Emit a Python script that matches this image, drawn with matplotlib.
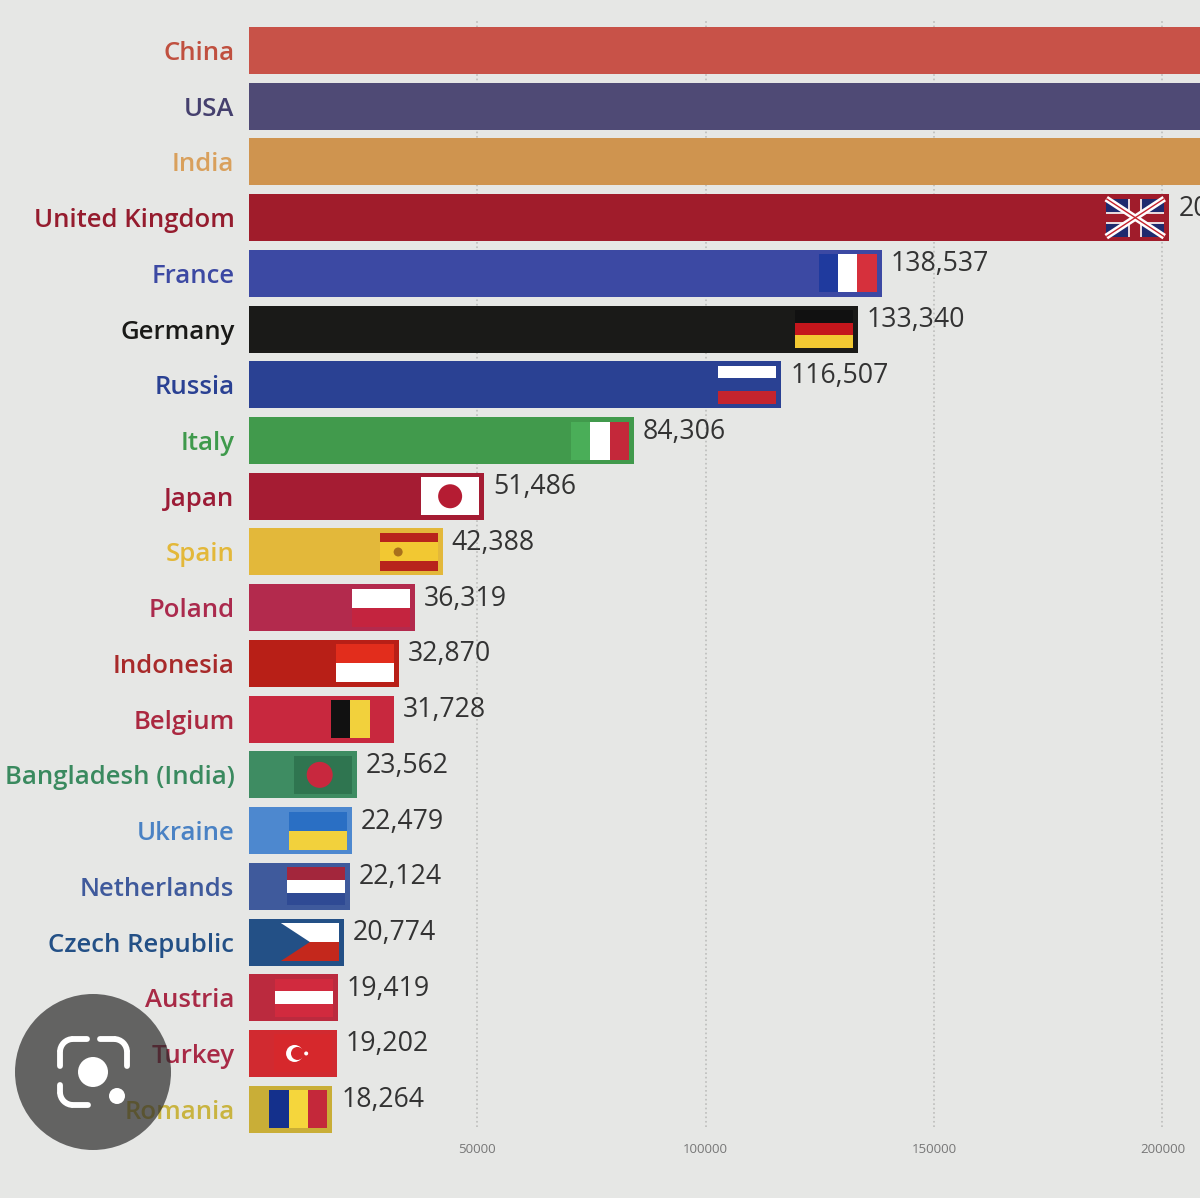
# bar chart race frame, top 20 countries
import matplotlib
matplotlib.use("Agg")
import matplotlib.pyplot as plt
from matplotlib.patches import Arc, Circle, Polygon, Rectangle

WIDTH = 1200
HEIGHT = 1198
BACKGROUND = "#e6e7e5"

countries = ["China", "USA", "India", "United Kingdom", "France", "Germany", "Russia",
             "Italy", "Japan", "Spain", "Poland", "Indonesia", "Belgium",
             "Bangladesh (India)", "Ukraine", "Netherlands", "Czech Republic",
             "Austria", "Turkey", "Romania"]
# first three run off the frame so their values are only a guess,
# the UK label is cut after "20"
values = [320000, 290000, 250000, 201500, 138537, 133340, 116507,
          84306, 51486, 42388, 36319, 32870, 31728,
          23562, 22479, 22124, 20774, 19419, 19202, 18264]
bar_colors = ["#c85248", "#4f4a75", "#cf944f", "#a01c2b", "#3c49a3", "#1a1a18", "#2a4193",
              "#419a4c", "#a51c33", "#e3b83a", "#b32a4d", "#b81f17", "#c8283e",
              "#3e8c62", "#4d88cf", "#3f5a9c", "#235086", "#bb2a3e", "#d12a30", "#c9ae37"]
label_colors = ["#c0503f", "#45406e", "#d9a05c", "#951c2e", "#3c49a3", "#1a1a18", "#2a4193",
                "#3f9a4c", "#9c1c36", "#e3b83a", "#ab2a4d", "#a82a2a", "#ab2840",
                "#3a8a5f", "#4a82c4", "#3f5a9c", "#235086", "#a82a46", "#a82a46", "#c9b440"]
x_ticks = [50000, 100000, 150000, 200000]

# stripes of each flag: (direction, colours)
flag_stripes = {
    "France": ("v", ["#1f3a9e", "#ffffff", "#d6303c"]),
    "Germany": ("h", ["#111111", "#c4161c", "#f2c832"]),
    "Russia": ("h", ["#ffffff", "#2a4193", "#c4242e"]),
    "Italy": ("v", ["#4aae58", "#ffffff", "#c4283a"]),
    "Spain": ("h", ["#b8241c", "#f2c832", "#f2c832", "#b8241c"]),
    "Poland": ("h", ["#ffffff", "#c4243f"]),
    "Indonesia": ("h", ["#e22d1c", "#ffffff"]),
    "Belgium": ("v", ["#111111", "#f2d13c", "#c8283e"]),
    "Ukraine": ("h", ["#2a6fc4", "#f2d13c"]),
    "Netherlands": ("h", ["#a3263c", "#ffffff", "#2f4a94"]),
    "Austria": ("h", ["#d12a3e", "#ffffff", "#d12a3e"]),
    "Romania": ("v", ["#14308c", "#f5d63c", "#c4283a"]),
}


def draw_stripes(over, x, y, w, h, direction, colors):
    for n, color in enumerate(colors):
        if direction == "v":
            over.add_patch(Rectangle((x + n * w / len(colors), y), w / len(colors), h, color=color, lw=0))
        else:
            over.add_patch(Rectangle((x, y + n * h / len(colors)), w, h / len(colors), color=color, lw=0))


def draw_uk(over, x, y, w, h):
    over.add_patch(Rectangle((x, y), w, h, color="#1f2a6e", lw=0))
    over.plot([x, x + w], [y, y + h], color="white", lw=4.5, solid_capstyle="butt")
    over.plot([x, x + w], [y + h, y], color="white", lw=4.5, solid_capstyle="butt")
    over.plot([x, x + w], [y, y + h], color="#c4242e", lw=1, solid_capstyle="butt")
    over.plot([x, x + w], [y + h, y], color="#c4242e", lw=1, solid_capstyle="butt")
    over.add_patch(Rectangle((x + w / 2 - 7, y), 14, h, color="#e8d8dc", lw=0))
    over.add_patch(Rectangle((x, y + h / 2 - 6), w, 12, color="#e8d8dc", lw=0))
    over.add_patch(Rectangle((x + w / 2 - 5, y), 10, h, color="#a01c2b", lw=0))
    over.add_patch(Rectangle((x, y + h / 2 - 4), w, 8, color="#a01c2b", lw=0))


def draw_flag(over, name, x, y, w, h):
    if name in flag_stripes:
        direction, colors = flag_stripes[name]
        draw_stripes(over, x, y, w, h, direction, colors)
        if name == "Spain":
            over.add_patch(Circle((x + w * 0.32, y + h / 2), 4.5, color="#a8701c", lw=0))
    elif name == "United Kingdom":
        draw_uk(over, x, y, w, h)
    elif name == "Japan":
        over.add_patch(Rectangle((x, y), w, h, color="white", lw=0))
        over.add_patch(Circle((x + w / 2, y + h / 2), 12, color="#b51c33", lw=0))
    elif name == "Bangladesh (India)":
        over.add_patch(Rectangle((x, y), w, h, color="#2f7550", lw=0))
        over.add_patch(Circle((x + w * 0.45, y + h / 2), 13, color="#c8283e", lw=0))
    elif name == "Czech Republic":
        draw_stripes(over, x, y, w, h, "h", ["#ffffff", "#c4281c"])
        over.add_patch(Polygon([(x, y), (x + w / 2, y + h / 2), (x, y + h)], color="#235086", lw=0))
    elif name == "Turkey":
        over.add_patch(Rectangle((x, y), w, h, color="#d6282c", lw=0))
        over.add_patch(Circle((x + w * 0.36, y + h / 2), 8.5, color="white", lw=0))
        over.add_patch(Circle((x + w * 0.41, y + h / 2), 6.5, color="#d6282c", lw=0))
        over.add_patch(Circle((x + w * 0.56, y + h / 2), 2, color="white", lw=0))


def draw_lens(over):
    cx, cy = 93, 1072
    over.add_patch(Circle((cx, cy), 78, color="#2b2b2b", alpha=0.7, lw=0))
    lw = 4.2
    r = 13
    left, right, top, bottom = 60, 127, 1039, 1105
    over.add_patch(Arc((left + r, top + r), 2 * r, 2 * r, theta1=180, theta2=270, color="white", lw=lw))
    over.add_patch(Arc((right - r, top + r), 2 * r, 2 * r, theta1=270, theta2=360, color="white", lw=lw))
    over.add_patch(Arc((left + r, bottom - r), 2 * r, 2 * r, theta1=90, theta2=180, color="white", lw=lw))
    segs = [([left, left], [top + r, top + 27]), ([left + r, left + 27], [top, top]),
            ([right, right], [top + r, top + 27]), ([right - r, right - 27], [top, top]),
            ([left, left], [bottom - r, bottom - 20]), ([left + r, left + 28], [bottom, bottom])]
    for xs, ys in segs:
        over.plot(xs, ys, color="white", lw=lw, solid_capstyle="round")
    over.add_patch(Circle((cx, cy), 15, color="white", lw=0))
    over.add_patch(Circle((117, 1096), 8, color="white", lw=0))


plt.rcParams["font.family"] = ["Open Sans", "DejaVu Sans"]

fig = plt.figure(figsize=(WIDTH / 100, HEIGHT / 100), dpi=100, facecolor=BACKGROUND)

# main axes spans px x 249-1200, y 20-1127
ax = fig.add_axes([249 / WIDTH, 1 - 1127 / HEIGHT, (WIDTH - 249) / WIDTH, (1127 - 20) / HEIGHT])
ax.set_facecolor(BACKGROUND)
spacing = 55.72
ax.set_ylim((1127 - 50.5) / spacing, (20 - 50.5) / spacing)
ax.set_xlim(0, (WIDTH - 249) / 0.004567)

positions = list(range(len(countries)))
bars = ax.barh(positions, values, height=47 / spacing, color=bar_colors, zorder=2)
for bar in bars:
    # Romania reaches past the end of the gridlines
    bar.set_clip_on(False)
ax.set_axisbelow(True)
ax.grid(axis="x", color="#bdbdbb", linestyle=":", linewidth=1.2)

ax.set_xticks(x_ticks)
ax.set_xticklabels([str(t) for t in x_ticks], fontsize=9.5, color="#777777")
ax.set_yticks(positions)
ax.set_yticklabels(countries, fontsize=18.5, fontweight=600)
for tick, color in zip(ax.get_yticklabels(), label_colors):
    tick.set_color(color)
ax.tick_params(axis="x", length=0, pad=11.5)
ax.tick_params(axis="y", length=0, pad=10.5)
for spine in ax.spines.values():
    spine.set_visible(False)

for pos, value in zip(positions, values):
    if value < ax.get_xlim()[1]:
        ax.annotate(f"{value:,}", (value, pos), xytext=(6.5, 6.5), textcoords="offset points",
                    va="center", ha="left", fontsize=19.2, color="#333333", annotation_clip=False)

# flags and the lens button go on a pixel overlay
over = fig.add_axes([0, 0, 1, 1])
over.set_xlim(0, WIDTH)
over.set_ylim(HEIGHT, 0)
over.axis("off")
over.patch.set_alpha(0)

for name, pos, value in zip(countries, positions, values):
    if value >= ax.get_xlim()[1]:
        continue
    px, py = ax.transData.transform((value, pos))
    draw_flag(over, name, px - 63, HEIGHT - py - 19, 58, 38)

draw_lens(over)

fig.savefig("out.png", dpi=100, facecolor=BACKGROUND)
